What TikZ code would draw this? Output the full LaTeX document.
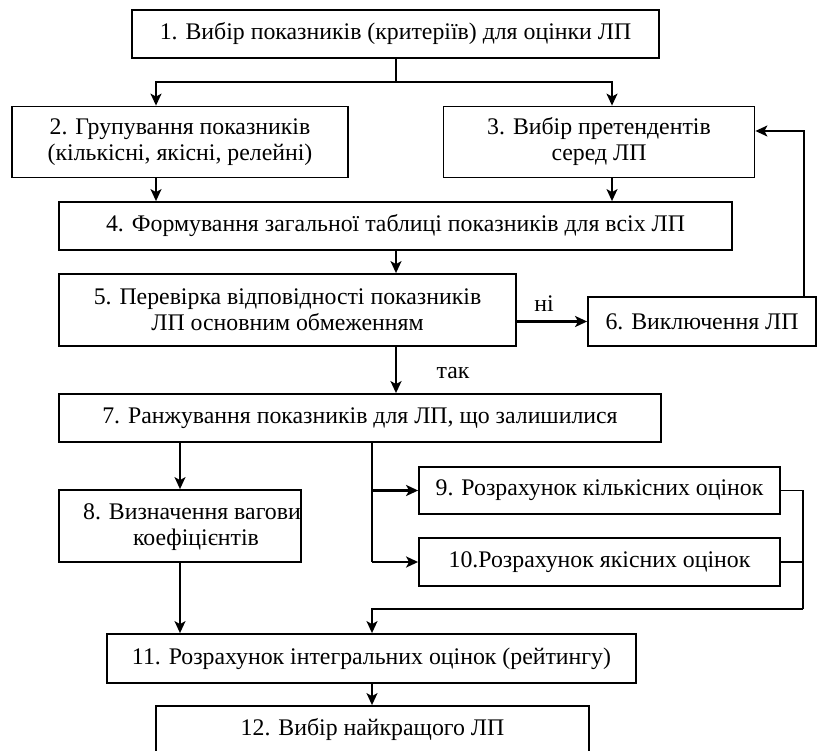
\documentclass[tikz,border=0pt]{standalone}
\usepackage{fontspec}
\setmainfont{Liberation Serif}
\usetikzlibrary{arrows.meta}

\begin{document}
\begin{tikzpicture}[x=1pt,y=-1pt,
  box/.style={draw,line width=1.8pt,inner sep=0pt,align=center,
    font=\fontsize{23.8}{26}\selectfont},
  lbl/.style={font=\fontsize{23.8}{26}\selectfont},
  arr/.style={line width=1.6pt,-{Stealth[length=12pt,width=11pt,inset=3pt]}},
  thk/.style={line width=2.6pt}]
\useasboundingbox (0,0) rectangle (817,751);

\node[box,minimum width=527pt,minimum height=48pt] (n1) at (395.5,34)
     {1. Вибір показників (критеріїв) для оцінки ЛП};
\node[box,minimum width=336pt,minimum height=71pt] (n2) at (180,142)
     {2. Групування показників\\(кількісні, якісні, релейні)};
\node[box,minimum width=311pt,minimum height=71pt] (n3) at (599,142)
     {3. Вибір претендентів\\серед ЛП};
\node[box,minimum width=673pt,minimum height=48pt] (n4) at (395.5,226)
     {4. Формування загальної таблиці показників для всіх ЛП};
\node[box,minimum width=457pt,minimum height=72pt] (n5) at (287.5,310)
     {5. Перевірка відповідності показників\\ЛП основним обмеженням};
\node[box,minimum width=228pt,minimum height=49pt] (n6) at (702,321.5)
     {6. Виключення ЛП};
\node[box,minimum width=602pt,minimum height=48pt] (n7) at (360,418)
     {7. Ранжування показників для ЛП, що залишилися};
\node[box,minimum width=242pt,minimum height=72pt] (n8) at (180,526) {};
\node[lbl,align=center] (t8) at (192,527) {8. Визначення вагови\\\hspace*{8pt}коефіцієнтів};
\node[box,minimum width=361pt,minimum height=47pt] (n9) at (599.5,490.5)
     {9. Розрахунок кількісних оцінок};
\node[box,minimum width=361pt,minimum height=48pt] (n10) at (599.5,562)
     {10.Розрахунок якісних оцінок};
\node[box,minimum width=529pt,minimum height=49pt] (n11) at (371.5,658.5)
     {11. Розрахунок інтегральних оцінок (рейтингу)};
\node[box,minimum width=433pt,minimum height=47pt] (n12) at (372.5,729.5)
     {12. Вибір найкращого ЛП};

\coordinate (j1) at (396,82);
\coordinate (f1) at (804,131);
\coordinate (b1) at (372,442);
\coordinate (r1) at (803,609);

\draw[line width=1.6pt] (n1.south -| j1) -- (j1);
\draw[arr] (j1) -| ([xshift=-24pt]n2.north);
\draw[arr] (j1) -| ([xshift=13pt]n3.north);
\draw[arr] ([xshift=-24pt]n2.south) -- ([xshift=-24pt]n2.south |- n4.north);
\draw[arr] ([xshift=13pt]n3.south) -- ([xshift=13pt]n3.south |- n4.north);
\draw[arr] (n4.south -| j1) -- (n5.north -| j1);
\path[arr,thk] (n6.west -| n5.east) edge node[lbl,above=5pt,xshift=-8pt] {ні} (n6.west);
\draw[arr] (n6.north -| f1) -- (f1) -- (n3.east |- f1);
\path[arr,thk] (n5.south -| j1) edge node[lbl,right=36pt,yshift=-3pt] {так} (n7.north -| j1);
\draw[arr] (n7.south -| n8.north) -- (n8.north);
\draw[line width=1.6pt] (b1) -- (b1 |- n10.west);
\draw[arr,thk] (b1 |- n9.west) -- (n9.west);
\draw[arr,thk] (b1 |- n10.west) -- (n10.west);
\draw[line width=1.6pt] (n9.east) -| (r1);
\draw[line width=1.6pt] (n10.east) -- (n10.east -| r1);
\draw[arr] (r1) -| (b1 |- n11.north);
\draw[arr] (n8.south) -- (n8.south |- n11.north);
\draw[arr] (n11.south -| b1) -- (n12.north -| b1);
\end{tikzpicture}
\end{document}
